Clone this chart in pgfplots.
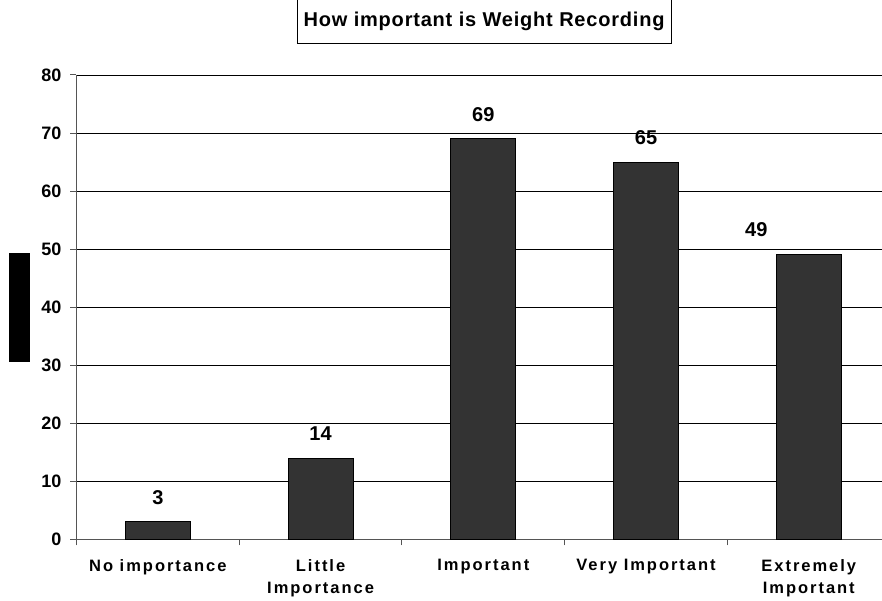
\documentclass[border=0pt]{standalone}
\usepackage{fontspec}
\setmainfont{Liberation Sans}
\newfontfamily\catfont{Liberation Sans}[LetterSpace=12]
\newfontfamily\titlefont{Liberation Sans}[LetterSpace=4]
\usepackage{pgfplots}
\pgfplotsset{compat=1.18}
\definecolor{barfill}{HTML}{333333}
\definecolor{axisgray}{HTML}{555555}

\begin{document}
\begin{tikzpicture}
\begin{axis}[
    name=ax,
    width=805.5pt, height=464.3pt, scale only axis,
    xmin=-0.5, xmax=4.45, ymin=0, ymax=80,
    ytick distance=10,
    xtick={0,...,4},
    xticklabels={No importance, Little\\Importance, Important, Very Important, Extremely\\Important},
    minor xtick={-0.5,0.5,1.5,2.5,3.5},
    major x tick style={draw=none},
    tick align=outside,
    major tick length=6pt, minor tick length=6pt,
    ymajorgrids, grid style={black, line width=0.8pt},
    axis x line*=bottom, axis y line*=left,
    axis line style={axisgray, line width=1.2pt},
    tick style={axisgray, line width=1pt},
    /pgf/number format/assume math mode=true,
    yticklabel style={font=\fontsize{18}{18}\selectfont\bfseries, inner sep=0pt, xshift=-9pt},
    xticklabel style={font=\catfont\bfseries\fontsize{16.5}{22.3}\selectfont, align=center, inner sep=0pt, anchor=north, yshift=-14pt},
    title={How important is Weight Recording},
    title style={at={(axis description cs:0.506,1)}, anchor=center, yshift=48pt,
        draw=black, line width=0.8pt, minimum width=374pt, minimum height=44pt, inner sep=0pt,
        font=\titlefont\bfseries\fontsize{20}{20}\selectfont},
    ylabel={\phantom{I}},
    every axis y label/.style={at={(axis description cs:0,0.5)}, xshift=-57pt, anchor=center,
        fill=black, minimum width=21pt, minimum height=109pt, inner sep=0pt},
]
\addplot[ybar, bar width=65pt, bar shift=0pt, fill=barfill, draw=black, line width=1pt,
    nodes near coords,
    nodes near coords style={font=\bfseries\fontsize{20}{20}\selectfont, text=black, inner sep=0pt, yshift=17pt}]
    coordinates {(0,3) (1,14) (2,69) (3,65)};
\addplot[ybar, bar width=65pt, bar shift=0pt, fill=barfill, draw=black, line width=1pt,
    nodes near coords,
    nodes near coords style={font=\bfseries\fontsize{20}{20}\selectfont, text=black, inner sep=0pt, yshift=17.5pt, xshift=-52.5pt}]
    coordinates {(4,49)};
\end{axis}
\pgfresetboundingbox
\path[use as bounding box] ([shift={(-76.5pt,-61.7pt)}]ax.south west) rectangle ([shift={(0pt,75pt)}]ax.north east);
\end{tikzpicture}
\end{document}
